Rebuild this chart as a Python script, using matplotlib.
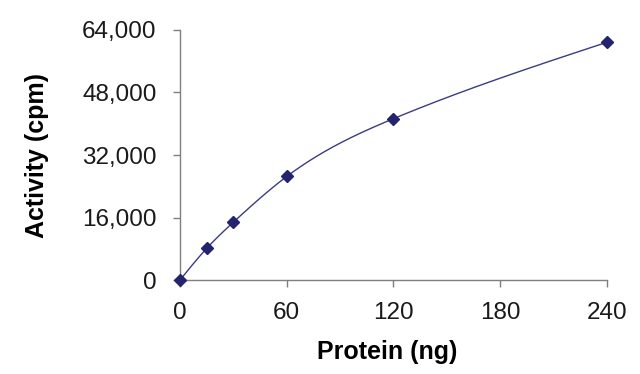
import numpy as np
import matplotlib.pyplot as plt
from matplotlib.ticker import FuncFormatter

# Data
protein_ng = [0, 15, 30, 60, 120, 240]
activity_cpm = [0, 8100, 14800, 26500, 41300, 60850]

x_ticks = [0, 60, 120, 180, 240]
y_ticks = [0, 16000, 32000, 48000, 64000]


def natural_spline(xs, ys, n=400):
    # natural cubic spline through the points, for the smoothed line
    xs = np.asarray(xs, float)
    ys = np.asarray(ys, float)
    k = len(xs)
    h = np.diff(xs)
    A = np.zeros((k, k))
    r = np.zeros(k)
    A[0, 0] = A[-1, -1] = 1
    for i in range(1, k - 1):
        A[i, i - 1] = h[i - 1]
        A[i, i] = 2 * (h[i - 1] + h[i])
        A[i, i + 1] = h[i]
        r[i] = 6 * ((ys[i + 1] - ys[i]) / h[i] - (ys[i] - ys[i - 1]) / h[i - 1])
    m = np.linalg.solve(A, r)
    xx = np.linspace(xs[0], xs[-1], n)
    idx = np.clip(np.searchsorted(xs, xx) - 1, 0, k - 2)
    x0, x1 = xs[idx], xs[idx + 1]
    y0, y1 = ys[idx], ys[idx + 1]
    m0, m1 = m[idx], m[idx + 1]
    hh = x1 - x0
    a = (x1 - xx) / hh
    b = (xx - x0) / hh
    yy = a * y0 + b * y1 + ((a ** 3 - a) * m0 + (b ** 3 - b) * m1) * hh ** 2 / 6
    return xx, yy


plt.rcParams['font.family'] = ['Liberation Sans', 'DejaVu Sans']

fig = plt.figure(figsize=(6.4, 3.74), dpi=100)
ax = fig.add_axes([0.28125, 0.2513, 0.667, 0.6685])

cx, cy = natural_spline(protein_ng, activity_cpm)
ax.plot(cx, cy, color='#3b3b85', linewidth=1.0, clip_on=False)
ax.plot(protein_ng, activity_cpm, linestyle='none', marker='D', markersize=6,
        color='#23236e', clip_on=False, zorder=3)

ax.set_xlim(0, 240)
ax.set_ylim(0, 64000)
ax.set_xticks(x_ticks)
ax.set_yticks(y_ticks)
ax.yaxis.set_major_formatter(FuncFormatter(lambda v, p: f"{int(v):,}"))

for side in ['top', 'right']:
    ax.spines[side].set_visible(False)
for side in ['left', 'bottom']:
    ax.spines[side].set_color('#7f7f7f')
    ax.spines[side].set_linewidth(1.0)

ax.tick_params(axis='both', direction='out', length=5, width=1.0,
               color='#7f7f7f', labelsize=17.5, labelcolor='#1a1a1a')
ax.tick_params(axis='y', pad=12)
ax.tick_params(axis='x', pad=11)

ax.set_xlabel('Protein (ng)', fontsize=18, fontweight='bold', labelpad=6)
ax.set_ylabel('Activity (cpm)', fontsize=18, fontweight='bold', labelpad=24)
ax.xaxis.set_label_coords(0.485, -0.24)

fig.savefig('out.png', dpi=100)
